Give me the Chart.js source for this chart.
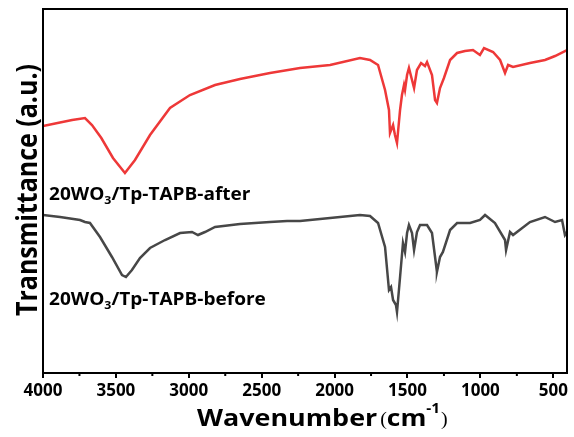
<!DOCTYPE html>
<html>
<head>
<meta charset="utf-8">
<script src="https://cdn.jsdelivr.net/npm/chart.js@4.4.0/dist/chart.umd.min.js"></script>
<style>
  html, body { margin: 0; padding: 0; background: #fff; }
  #wrap { width: 574px; height: 437px; }
</style>
</head>
<body>
<div id="wrap"><canvas id="ftir"></canvas></div>
<script>
// spectrum (wavenumber in cm-1, transmittance in arbitrary units)
const afterWn = [4000, 3900, 3800, 3712, 3664, 3600, 3520, 3438, 3369, 3266, 3129, 2992, 2820, 2649, 2443, 2237,
  2031, 1826, 1757, 1702, 1654, 1627, 1620, 1599, 1586, 1572, 1551, 1538, 1524, 1517, 1503, 1490, 1469, 1455,
  1435, 1407, 1380, 1366, 1332, 1311, 1298, 1277, 1250, 1208, 1160, 1106, 1051, 1003, 975, 913, 865, 831, 810,
  776, 660, 557, 522, 488, 406];
const afterT = [247, 250, 253, 255, 248, 235, 215, 200, 213, 238, 265, 278, 288, 294, 300, 305,
  308, 315, 313, 308, 283, 263, 240, 248, 238, 230, 263, 278, 288, 283, 298, 305, 293, 285,
  303, 310, 307, 311, 298, 273, 270, 285, 295, 313, 320, 322, 323, 318, 325, 321, 313, 300, 308,
  306, 310, 313, 315, 317, 323];

const beforeWn = [4000, 3883, 3746, 3712, 3678, 3609, 3527, 3458, 3431, 3390, 3335, 3266, 3163, 3060, 2978, 2937,
  2889, 2820, 2649, 2443, 2326, 2237, 2031, 1826, 1757, 1702, 1654, 1627, 1613, 1599, 1579, 1572, 1551, 1531,
  1517, 1503, 1490, 1469, 1455, 1435, 1414, 1366, 1332, 1304, 1298, 1277, 1257, 1208, 1160, 1071, 1003, 968,
  900, 831, 824, 797, 776, 660, 557, 488, 440, 420, 406];
const beforeT = [158, 156, 153, 151, 150, 136, 116, 98, 96, 103, 115, 125, 133, 140, 141, 138,
  141, 146, 149, 151, 152, 152, 155, 158, 157, 150, 126, 83, 86, 73, 68, 61, 96, 130,
  121, 140, 148, 140, 123, 141, 148, 148, 140, 108, 101, 116, 121, 143, 150, 150, 153, 158,
  150, 133, 123, 141, 138, 151, 156, 151, 153, 138, 141];

const xTicks = [4000, 3500, 3000, 2500, 2000, 1500, 1000, 500];
const minorTicks = [3750, 3250, 2750, 2250, 1750, 1250, 750];

const toPoints = (xs, ys) => xs.map((v, i) => ({ x: v, y: ys[i] }));

function drawStretched(ctx, txt, x, y, sx) {
  ctx.save();
  ctx.translate(x, y);
  ctx.scale(sx, 1);
  ctx.fillText(txt, 0, 0);
  const w = ctx.measureText(txt).width * sx;
  ctx.restore();
  return w;
}

function sampleLabel(ctx, x, y, tail) {
  ctx.font = 'bold 17px "Open Sans"';
  let cx = x + drawStretched(ctx, '20WO', x, y, 1.12);
  ctx.font = 'bold 11px "Open Sans"';
  cx += drawStretched(ctx, '3', cx, y + 4, 1.12);
  ctx.font = 'bold 17px "Open Sans"';
  drawStretched(ctx, tail, cx, y, 1.12);
}

const decor = {
  id: 'decor',
  afterDraw(chart) {
    const { ctx, chartArea: a, scales: { x } } = chart;
    ctx.save();
    ctx.strokeStyle = '#000';
    ctx.lineWidth = 2;
    ctx.strokeRect(a.left, a.top, a.right - a.left, a.bottom - a.top);

    ctx.beginPath();
    minorTicks.forEach(v => {
      const px = x.getPixelForValue(v);
      ctx.moveTo(px, a.bottom);
      ctx.lineTo(px, a.bottom + 3);
    });
    ctx.stroke();

    ctx.fillStyle = '#000';
    ctx.textBaseline = 'alphabetic';
    ctx.textAlign = 'left';
    sampleLabel(ctx, a.left + 6, 200, '/Tp-TAPB-after');
    sampleLabel(ctx, a.left + 6, 305, '/Tp-TAPB-before');

    // x axis title
    let tx = 197;
    const by = 426;
    ctx.font = 'bold 24px "Open Sans"';
    tx += drawStretched(ctx, 'Wavenumber', tx, by, 1.12) + 3;
    ctx.font = '19px "Liberation Serif"';
    tx += drawStretched(ctx, '(', tx, by - 1, 1.05);
    ctx.font = 'bold 24px "Open Sans"';
    tx += drawStretched(ctx, 'cm', tx, by, 1.1);
    ctx.font = 'bold 14px "Open Sans"';
    tx += drawStretched(ctx, '-1', tx, by - 13, 1.1);
    ctx.font = '19px "Liberation Serif"';
    drawStretched(ctx, ')', tx + 1, by - 1, 1.05);

    // y axis title
    ctx.save();
    ctx.translate(29, 190);
    ctx.rotate(-Math.PI / 2);
    ctx.scale(1, 1.12);
    ctx.font = 'bold 25px "Open Sans"';
    ctx.textAlign = 'center';
    ctx.textBaseline = 'middle';
    ctx.fillText('Transmittance (a.u.)', 0, 0);
    ctx.restore();
    ctx.restore();
  }
};

new Chart(document.getElementById('ftir'), {
  type: 'line',
  data: {
    datasets: [
      {
        label: '20WO3/Tp-TAPB-after',
        data: toPoints(afterWn, afterT),
        borderColor: '#ee3838',
        borderWidth: 2.5,
        pointRadius: 0,
        tension: 0
      },
      {
        label: '20WO3/Tp-TAPB-before',
        data: toPoints(beforeWn, beforeT),
        borderColor: '#474747',
        borderWidth: 2.5,
        pointRadius: 0,
        tension: 0
      }
    ]
  },
  options: {
    responsive: true,
    maintainAspectRatio: false,
    animation: false,
    layout: { padding: { top: 9, right: 7, left: 0, bottom: 0 } },
    plugins: {
      legend: { display: false },
      tooltip: { enabled: false }
    },
    scales: {
      x: {
        type: 'linear',
        reverse: true,
        min: 406,
        max: 4000,
        afterBuildTicks: s => { s.ticks = xTicks.map(v => ({ value: v })); },
        afterFit: s => { s.height = 64; },
        ticks: {
          color: '#000',
          padding: 3,
          maxRotation: 0,
          callback: v => String(v),
          font: { family: 'Open Sans', weight: 'bold', size: 17 }
        },
        grid: { drawOnChartArea: false, tickLength: 5, color: '#000', lineWidth: 2 },
        border: { display: false }
      },
      y: {
        min: 0,
        max: 364,
        afterFit: s => { s.width = 43; },
        ticks: { display: false },
        grid: { display: false },
        border: { display: false }
      }
    }
  },
  plugins: [decor]
});
</script>
</body>
</html>
